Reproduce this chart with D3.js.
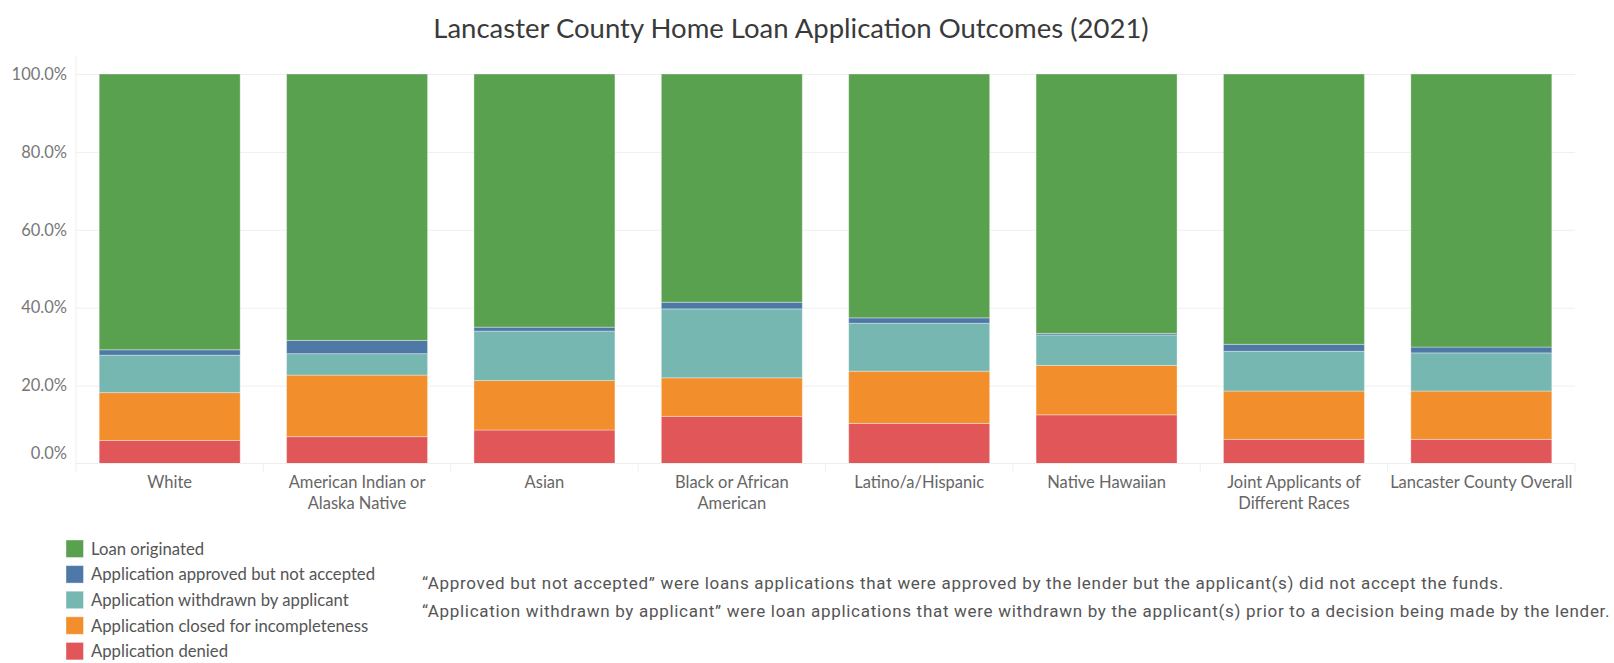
<!DOCTYPE html>
<html>
<head>
<meta charset="utf-8">
<script src="https://cdn.jsdelivr.net/npm/d3@7"></script>
<style>
  html, body { margin: 0; padding: 0; background: #fff; }
  svg { display: block; }
</style>
</head>
<body>
<svg id="chart" width="1614" height="663"></svg>
<script>
// ---- data ----
const categories = [
  "White",
  "American Indian or\nAlaska Native",
  "Asian",
  "Black or African\nAmerican",
  "Latino/a/Hispanic",
  "Native Hawaiian",
  "Joint Applicants of\nDifferent Races",
  "Lancaster County Overall"
];
const seriesNames = [
  "Application denied",
  "Application closed for incompleteness",
  "Application withdrawn by applicant",
  "Application approved but not accepted",
  "Loan originated"
];
const denied     = [5.9, 6.9, 8.6, 12.1, 10.3, 12.5, 6.2, 6.2];
const closed     = [12.3, 15.8, 12.7, 9.9, 13.4, 12.7, 12.4, 12.4];
const withdrawn  = [9.6, 5.5, 12.7, 17.7, 12.3, 7.8, 10.2, 9.8];
const approved   = [1.4, 3.4, 1.0, 1.7, 1.4, 0.4, 1.8, 1.5];
const originated = [70.8, 68.4, 65.0, 58.6, 62.6, 66.6, 69.4, 70.1];
const yTicks = [0, 20, 40, 60, 80, 100];
const colors = ["#e15759", "#f28e2b", "#76b7b2", "#4e79a7", "#59a14f"];
const legendOrder = [
  "Loan originated",
  "Application approved but not accepted",
  "Application withdrawn by applicant",
  "Application closed for incompleteness",
  "Application denied"
];
const title = "Lancaster County Home Loan Application Outcomes (2021)";
const notes = [
  "\u201CApproved but not accepted\u201D were loans applications that were approved by the lender but the applicant(s) did not accept the funds.",
  "\u201CApplication withdrawn by applicant\u201D were loan applications that were withdrawn by the applicant(s) prior to a decision being made by the lender."
];

// ---- build table ----
const seriesValues = [denied, closed, withdrawn, approved, originated];
const table = categories.map((c, i) => {
  const row = { cat: c };
  seriesNames.forEach((s, k) => row[s] = seriesValues[k][i]);
  return row;
});
const stacked = d3.stack().keys(seriesNames)(table);

// ---- layout ----
const svg = d3.select("#chart");
const plot = { left: 76, right: 1575, top: 74, bottom: 463.5 };
const x = d3.scaleBand().domain(categories).range([plot.left, plot.right])
  .paddingInner(0.2476).paddingOuter(0.1238);
const y = d3.scaleLinear().domain([0, 100]).range([plot.bottom, plot.top]);
const color = d3.scaleOrdinal().domain(seriesNames).range(colors);

const FONT = "Lato, 'Open Sans', sans-serif";

// title
svg.append("text")
  .attr("x", 791).attr("y", 38)
  .attr("text-anchor", "middle")
  .attr("font-family", FONT)
  .attr("font-size", 27.5)
  .attr("fill", "#3a3a3a")
  .text(title);

// gridlines
const grid = svg.append("g")
  .attr("transform", `translate(${plot.left},0)`)
  .call(d3.axisLeft(y).tickValues(yTicks.filter(d => d > 0)).tickSize(-(plot.right - plot.left)).tickFormat(""));
grid.select(".domain").remove();
grid.selectAll("line").attr("stroke", "#efefef").attr("stroke-width", 1);

// left vertical line
svg.append("line")
  .attr("x1", plot.left).attr("x2", plot.left)
  .attr("y1", 56).attr("y2", plot.bottom)
  .attr("stroke", "#efefef");

// bars
svg.append("g").selectAll("g")
  .data(stacked)
  .join("g")
  .attr("fill", d => color(d.key))
  .selectAll("rect")
  .data(d => d)
  .join("rect")
  .attr("x", d => x(d.data.cat))
  .attr("width", x.bandwidth())
  .attr("y", d => y(d[1]))
  .attr("height", d => y(d[0]) - y(d[1]))
  .attr("stroke", "#ffffff")
  .attr("stroke-opacity", 0.35)
  .attr("stroke-width", 1);

// baseline + column dividers
svg.append("line")
  .attr("x1", plot.left).attr("x2", plot.right)
  .attr("y1", plot.bottom).attr("y2", plot.bottom)
  .attr("stroke", "#eeeeee");
const step = x.step();
const dividers = categories.map(c => x(c) - x.paddingInner() * step / 2);
dividers.push(plot.right);
svg.append("g").selectAll("line")
  .data(dividers)
  .join("line")
  .attr("x1", d => d).attr("x2", d => d)
  .attr("y1", plot.bottom).attr("y2", plot.bottom + 8)
  .attr("stroke", "#eeeeee");

// y-axis labels
const yAxis = svg.append("g")
  .attr("transform", `translate(${plot.left},0)`)
  .call(d3.axisLeft(y).tickValues(yTicks).tickSize(0).tickPadding(9)
    .tickFormat(d => d.toFixed(1) + "%"));
yAxis.select(".domain").remove();
yAxis.selectAll("text")
  .attr("font-family", FONT)
  .attr("font-size", 16.5)
  .attr("fill", "#777")
  .attr("dy", d => d === 0 ? "-0.3em" : "0.32em");

// x-axis labels
const xAxis = svg.append("g")
  .attr("transform", `translate(0,${plot.bottom})`)
  .call(d3.axisBottom(x).tickSize(0).tickFormat(""));
xAxis.select(".domain").remove();
xAxis.selectAll(".tick").each(function(d) {
  const lines = d.split("\n");
  const t = d3.select(this).append("text")
    .attr("font-family", FONT)
    .attr("font-size", 16.5)
    .attr("fill", "#666")
    .attr("text-anchor", "middle")
    .attr("y", 24);
  lines.forEach((ln, i) => {
    t.append("tspan").attr("x", 0).attr("dy", i === 0 ? 0 : 21.5).text(ln);
  });
});

// legend
const legend = svg.append("g").attr("transform", "translate(66,540)");
const li = legend.selectAll("g")
  .data(legendOrder)
  .join("g")
  .attr("transform", (d, i) => `translate(0,${i * 25.6})`);
li.append("rect")
  .attr("width", 17.5).attr("height", 17.5)
  .attr("fill", d => color(d))
  .attr("stroke", "#fff").attr("stroke-opacity", 0.4);
li.append("text")
  .attr("x", 25).attr("y", 9)
  .attr("dy", "0.35em")
  .attr("font-family", FONT)
  .attr("font-size", 16.7)
  .attr("fill", "#555")
  .text(d => d);

// notes
svg.append("g").selectAll("text")
  .data(notes)
  .join("text")
  .attr("x", 422)
  .attr("y", (d, i) => 589 + i * 27.8)
  .attr("font-family", "Roboto, sans-serif")
  .attr("font-size", 17)
  .attr("letter-spacing", "0.7px")
  .attr("fill", "#555")
  .text(d => d);
</script>
</body>
</html>
